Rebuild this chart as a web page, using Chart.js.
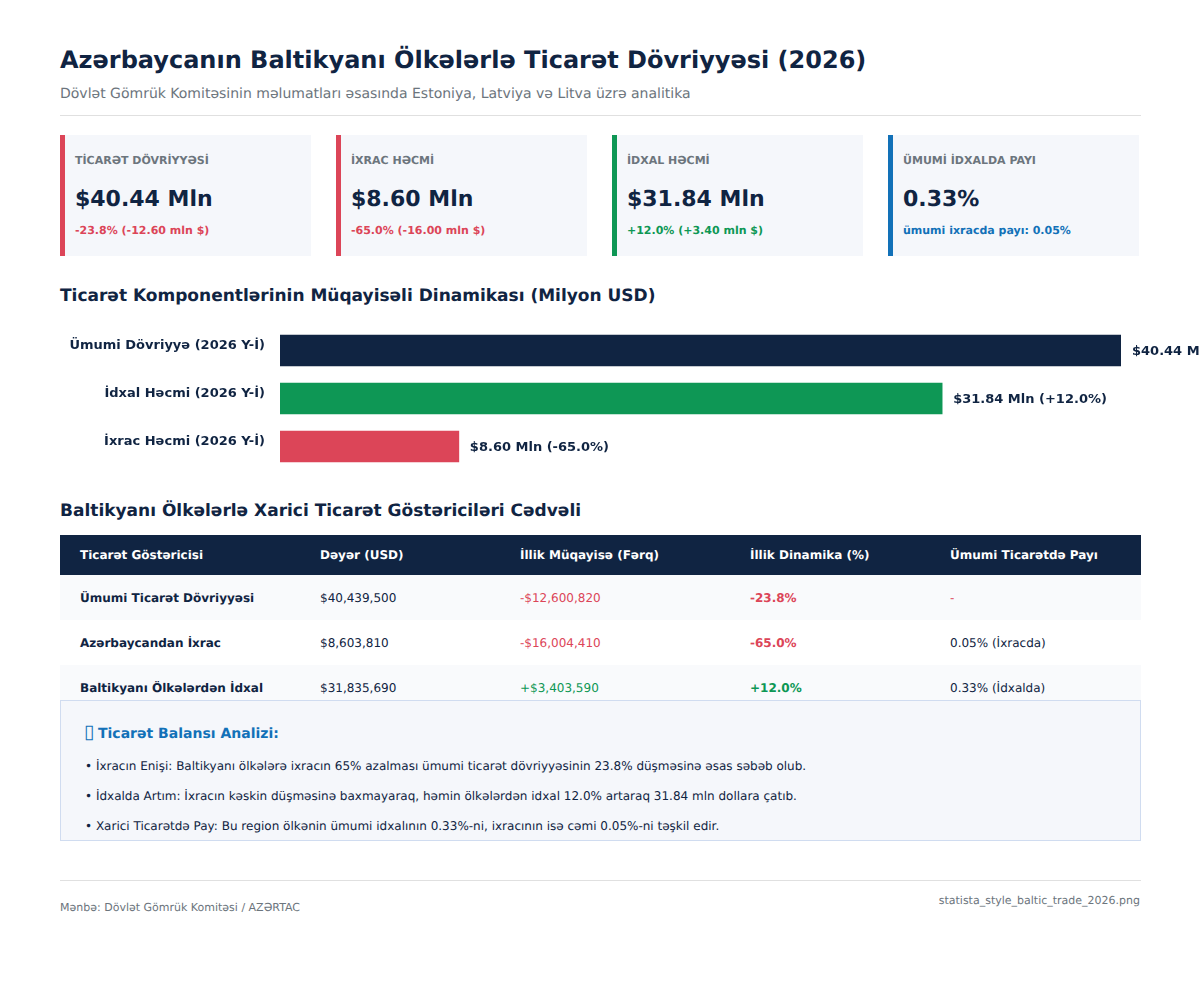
<!DOCTYPE html>
<html lang="az">
<head>
<meta charset="utf-8">
<title>Baltik ticarət 2026</title>
<script src="https://cdn.jsdelivr.net/npm/chart.js@4"></script>
<style>
    * { box-sizing: border-box; margin: 0; padding: 0; }
    html, body { width: 1200px; height: 1000px; overflow: hidden; background: #fff; }
    body { position: relative; font-family: "DejaVu Sans", sans-serif; color: #102442; text-rendering: geometricPrecision; }
    .abs { position: absolute; white-space: nowrap; }
    h1 { font-size: 24px; font-weight: 700; }
    h2 { font-size: 17px; font-weight: 700; }
    .rule { position: absolute; left: 60px; width: 1081px; height: 1px; background: #e0e0e0; }
    .card { position: absolute; top: 135px; width: 251px; height: 121px; background: #f5f7fb; border-left: 5px solid; }
    .card div { position: absolute; left: 10px; white-space: nowrap; }
    .card .lab { top: 19px; font-size: 11px; font-weight: 700; color: #6c757d; }
    .card .val { top: 52px; font-size: 22px; font-weight: 700; }
    .card .sub { top: 89px; font-size: 11px; font-weight: 700; }
    #chartBox { position: absolute; left: 0; top: 325px; width: 1200px; height: 150px; }
    table { position: absolute; left: 60px; top: 535px; width: 1081px; border-collapse: collapse; table-layout: fixed; font-size: 12px; }
    th { height: 40px; background: #102442; color: #fff; text-align: left; padding-left: 20px; font-weight: 700; }
    td { height: 45px; padding-left: 20px; }
    tr:nth-child(even) td { background: #f9fafc; }
    td:first-child { font-weight: 700; }
    .neg { color: #dc4558; }
    .pos { color: #0e9755; }
    .b { font-weight: 700; }
    #note { position: absolute; left: 60px; top: 700px; width: 1081px; height: 141px; background: #f5f7fb; border: 1px solid #d0dcf0; }
    #note h3 { position: absolute; left: 24px; top: 25px; font-size: 14px; color: #1271b8; white-space: nowrap; }
    #note h3 span { display: inline-block; width: 13px; margin-left: -1px; margin-right: 1px; font-size: 19px; line-height: 0; font-weight: 400; }
    #note p { position: absolute; left: 24px; font-size: 12px; white-space: nowrap; }
</style>
</head>
<body>
<h1 class="abs" style="left:60px;top:46px">Azərbaycanın Baltikyanı Ölkələrlə Ticarət Dövriyyəsi (2026)</h1>
<div class="abs" style="left:60px;top:86px;font-size:14px;color:#6c757d">Dövlət Gömrük Komitəsinin məlumatları əsasında Estoniya, Latviya və Litva üzrə analitika</div>
<div class="rule" style="top:115px"></div>

<div id="cards"></div>

<h2 class="abs" style="left:60px;top:286px">Ticarət Komponentlərinin Müqayisəli Dinamikası (Milyon USD)</h2>
<div id="chartBox"><canvas id="tradeChart" width="1200" height="150"></canvas></div>

<h2 class="abs" style="left:60px;top:501px">Baltikyanı Ölkələrlə Xarici Ticarət Göstəriciləri Cədvəli</h2>
<table id="tbl"></table>

<div id="note"></div>

<div class="rule" style="top:880px"></div>
<div class="abs" style="left:60px;top:901px;font-size:11px;color:#6c757d">Mənbə: Dövlət Gömrük Komitəsi / AZƏRTAC</div>
<div class="abs" style="right:60px;top:894px;font-size:11px;color:#6c757d">statista_style_baltic_trade_2026.png</div>

<script>
    const NAVY = "#102442", RED = "#dc4558", GREEN = "#0e9755", BLUE = "#1271b8";

    // kartlar
    const cardLabels = ["TİCARƏT DÖVRİYYƏSİ", "İXRAC HƏCMİ", "İDXAL HƏCMİ", "ÜMUMİ İDXALDA PAYI"];
    const cardValues = ["$40.44 Mln", "$8.60 Mln", "$31.84 Mln", "0.33%"];
    const cardNotes = ["-23.8% (-12.60 mln $)", "-65.0% (-16.00 mln $)", "+12.0% (+3.40 mln $)", "ümumi ixracda payı: 0.05%"];
    const cardColors = [RED, RED, GREEN, BLUE];

    // qrafik
    const categories = ["Ümumi Dövriyyə (2026 Y-İ)", "İdxal Həcmi (2026 Y-İ)", "İxrac Həcmi (2026 Y-İ)"];
    const values = [40.44, 31.84, 8.60];
    const changes = ["-23.8%", "+12.0%", "-65.0%"];
    const barColors = [NAVY, GREEN, RED];

    // cədvəl
    const tableHead = ["Ticarət Göstəricisi", "Dəyər (USD)", "İllik Müqayisə (Fərq)", "İllik Dinamika (%)", "Ümumi Ticarətdə Payı"];
    const tableWidths = [240, 200, 230, 200, 211];
    const rowNames = ["Ümumi Ticarət Dövriyyəsi", "Azərbaycandan İxrac", "Baltikyanı Ölkələrdən İdxal"];
    const rowValues = ["$40,439,500", "$8,603,810", "$31,835,690"];
    const rowDiffs = ["-$12,600,820", "-$16,004,410", "+$3,403,590"];
    const rowPct = ["-23.8%", "-65.0%", "+12.0%"];
    const rowShare = ["-", "0.05% (İxracda)", "0.33% (İdxalda)"];

    // analiz
    const noteTitle = "Ticarət Balansı Analizi:";
    const noteLines = [
        "• İxracın Enişi: Baltikyanı ölkələrə ixracın 65% azalması ümumi ticarət dövriyyəsinin 23.8% düşməsinə əsas səbəb olub.",
        "• İdxalda Artım: İxracın kəskin düşməsinə baxmayaraq, həmin ölkələrdən idxal 12.0% artaraq 31.84 mln dollara çatıb.",
        "• Xarici Ticarətdə Pay: Bu region ölkənin ümumi idxalının 0.33%-ni, ixracının isə cəmi 0.05%-ni təşkil edir."
    ];

    document.getElementById("cards").innerHTML = cardLabels.map((lab, i) =>
        `<div class="card" style="left:${60 + i * 276}px;border-color:${cardColors[i]}">
            <div class="lab">${lab}</div>
            <div class="val">${cardValues[i]}</div>
            <div class="sub" style="color:${cardColors[i]}">${cardNotes[i]}</div>
        </div>`).join("");

    const cls = (s) => s.startsWith("+") ? "pos" : "neg";
    document.getElementById("tbl").innerHTML =
        "<colgroup>" + tableWidths.map((w) => `<col style="width:${w}px">`).join("") + "</colgroup>" +
        "<tr>" + tableHead.map((h) => `<th>${h}</th>`).join("") + "</tr>" +
        rowNames.map((name, i) => `<tr>
            <td>${name}</td>
            <td>${rowValues[i]}</td>
            <td class="${cls(rowDiffs[i])}">${rowDiffs[i]}</td>
            <td class="${cls(rowPct[i])} b">${rowPct[i]}</td>
            <td class="${rowShare[i] === "-" ? "neg" : ""}">${rowShare[i]}</td>
        </tr>`).join("");

    document.getElementById("note").innerHTML = `<h3><span>▯</span>${noteTitle}</h3>` +
        noteLines.map((t, i) => `<p style="top:${58 + i * 30}px">${t}</p>`).join("");

    // barın yanındakı yazılar
    const valueLabels = {
        id: "valueLabels",
        afterDatasetsDraw(chart) {
            const ctx = chart.ctx;
            ctx.save();
            ctx.font = "bold 13px 'DejaVu Sans'";
            ctx.fillStyle = NAVY;
            ctx.textBaseline = "middle";
            chart.getDatasetMeta(0).data.forEach((bar, i) => {
                ctx.fillText("$" + values[i].toFixed(2) + " Mln (" + changes[i] + ")", bar.x + 11, bar.y + 1);
            });
            ctx.restore();
        }
    };

    new Chart(document.getElementById("tradeChart").getContext("2d"), {
        type: "bar",
        data: {
            labels: categories,
            datasets: [{
                data: values,
                backgroundColor: barColors,
                barThickness: 31
            }]
        },
        plugins: [valueLabels],
        options: {
            indexAxis: "y",
            animation: false,
            responsive: false,
            devicePixelRatio: 1,
            layout: { padding: { top: 1.5, bottom: 4.5, right: 79 } },
            plugins: { legend: { display: false }, tooltip: { enabled: false } },
            scales: {
                x: { display: false, min: 0, max: 40.44 },
                y: {
                    // tick padding-i şaquli boşluq da verir, onu sıfırlayırıq
                    afterFit(scale) {
                        scale.width = 280;
                        scale.paddingTop = 0;
                        scale.paddingBottom = 0;
                    },
                    border: { display: false },
                    grid: { display: false, drawTicks: false },
                    ticks: {
                        padding: 15,
                        labelOffset: -5,
                        color: NAVY,
                        font: { family: "'DejaVu Sans'", size: 13, weight: "bold" }
                    }
                }
            }
        }
    });
</script>
</body>
</html>
